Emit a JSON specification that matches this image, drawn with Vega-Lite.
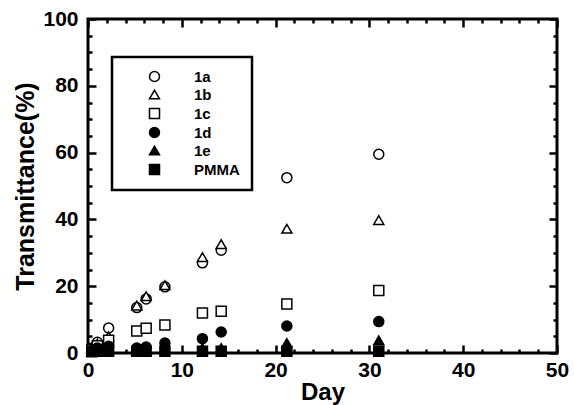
{
  "$schema": "https://vega.github.io/schema/vega-lite/v6.json",
  "width": 469,
  "height": 334,
  "autosize": "none",
  "padding": {"left": 88, "top": 19, "right": 17, "bottom": 52},
  "background": "white",
  "config": {
    "view": {"stroke": "black", "strokeWidth": 3},
    "font": "Liberation Sans",
    "legend": {"strokeColor": "black", "strokeWidth": 2.5, "fillColor": "white"}
  },
  "data": {
    "values": [
      {"day": 0.4, "t": 1.5, "s": "1a"}, {"day": 1.0, "t": 3.2, "s": "1a"}, {"day": 2.2, "t": 7.5, "s": "1a"},
      {"day": 5.2, "t": 13.6, "s": "1a"}, {"day": 6.2, "t": 16.2, "s": "1a"}, {"day": 8.2, "t": 19.8, "s": "1a"},
      {"day": 12.2, "t": 27.0, "s": "1a"}, {"day": 14.2, "t": 30.8, "s": "1a"}, {"day": 21.2, "t": 52.5, "s": "1a"},
      {"day": 31.0, "t": 59.5, "s": "1a"},
      {"day": 0.4, "t": 1.2, "s": "1b"}, {"day": 1.0, "t": 2.8, "s": "1b"}, {"day": 2.2, "t": 5.0, "s": "1b"},
      {"day": 5.2, "t": 14.2, "s": "1b"}, {"day": 6.2, "t": 17.0, "s": "1b"}, {"day": 8.2, "t": 20.3, "s": "1b"},
      {"day": 12.2, "t": 28.7, "s": "1b"}, {"day": 14.2, "t": 32.6, "s": "1b"}, {"day": 21.2, "t": 37.2, "s": "1b"},
      {"day": 31.0, "t": 39.8, "s": "1b"},
      {"day": 0.4, "t": 1.0, "s": "1c"}, {"day": 1.0, "t": 2.2, "s": "1c"}, {"day": 2.2, "t": 3.8, "s": "1c"},
      {"day": 5.2, "t": 6.6, "s": "1c"}, {"day": 6.2, "t": 7.4, "s": "1c"}, {"day": 8.2, "t": 8.4, "s": "1c"},
      {"day": 12.2, "t": 12.0, "s": "1c"}, {"day": 14.2, "t": 12.5, "s": "1c"}, {"day": 21.2, "t": 14.7, "s": "1c"},
      {"day": 31.0, "t": 18.7, "s": "1c"},
      {"day": 0.4, "t": 0.8, "s": "1d"}, {"day": 1.0, "t": 1.5, "s": "1d"}, {"day": 2.2, "t": 2.0, "s": "1d"},
      {"day": 5.2, "t": 1.5, "s": "1d"}, {"day": 6.2, "t": 1.8, "s": "1d"}, {"day": 8.2, "t": 3.0, "s": "1d"},
      {"day": 12.2, "t": 4.3, "s": "1d"}, {"day": 14.2, "t": 6.3, "s": "1d"}, {"day": 21.2, "t": 8.1, "s": "1d"},
      {"day": 31.0, "t": 9.4, "s": "1d"},
      {"day": 0.4, "t": 0.5, "s": "1e"}, {"day": 1.0, "t": 1.0, "s": "1e"}, {"day": 2.2, "t": 1.0, "s": "1e"},
      {"day": 5.2, "t": 0.8, "s": "1e"}, {"day": 6.2, "t": 1.0, "s": "1e"}, {"day": 8.2, "t": 1.2, "s": "1e"},
      {"day": 12.2, "t": 1.5, "s": "1e"}, {"day": 14.2, "t": 1.5, "s": "1e"}, {"day": 21.2, "t": 3.0, "s": "1e"},
      {"day": 31.0, "t": 3.8, "s": "1e"},
      {"day": 0.4, "t": 0.4, "s": "PMMA"}, {"day": 1.0, "t": 0.5, "s": "PMMA"}, {"day": 2.2, "t": 0.5, "s": "PMMA"},
      {"day": 5.2, "t": 0.5, "s": "PMMA"}, {"day": 6.2, "t": 0.5, "s": "PMMA"}, {"day": 8.2, "t": 0.5, "s": "PMMA"},
      {"day": 12.2, "t": 0.5, "s": "PMMA"}, {"day": 14.2, "t": 0.5, "s": "PMMA"}, {"day": 21.2, "t": 0.5, "s": "PMMA"},
      {"day": 31.0, "t": 0.5, "s": "PMMA"}
    ]
  },
  "layer": [
    {
      "mark": {"type": "point", "filled": true, "stroke": "black", "strokeWidth": 1.5, "size": 100, "opacity": 1},
      "encoding": {
        "x": {"field": "day", "type": "quantitative", "scale": {"domain": [0, 50], "nice": false},
          "axis": {"orient": "bottom", "values": [0, 10, 20, 30, 40, 50], "tickSize": -8, "tickWidth": 2.5, "tickColor": "black",
            "domain": false, "grid": false, "labelFontSize": 21, "labelFontWeight": "bold", "labelColor": "black", "labelPadding": 14,
            "title": "Day", "titleFontSize": 24, "titleFontWeight": "bold", "titleColor": "black", "titlePadding": 0, "labelFlush": false}},
        "y": {"field": "t", "type": "quantitative", "scale": {"domain": [0, 100], "nice": false},
          "axis": {"orient": "left", "values": [0, 20, 40, 60, 80, 100], "tickSize": -8, "tickWidth": 2.5, "tickColor": "black",
            "domain": false, "grid": false, "labelFontSize": 21, "labelFontWeight": "bold", "labelColor": "black", "labelPadding": 18,
            "title": "Transmittance(%)", "titleFontSize": 25, "titleFontWeight": "bold", "titleColor": "black", "titlePadding": 4, "labelFlush": false}},
        "shape": {"field": "s", "type": "nominal",
          "scale": {"domain": ["1a", "1b", "1c", "1d", "1e", "PMMA"], "range": ["circle", "triangle-up", "square", "circle", "triangle-up", "square"]},
          "legend": {"title": null, "orient": "none", "legendX": 24, "legendY": 38, "padding": 12, "symbolOffset": 23, "labelOffset": 32,
            "rowPadding": 2, "symbolSize": 100, "labelFontSize": 15, "labelFontWeight": "bold", "labelColor": "black",
            "encode": {"symbols": {"update": {"stroke": {"value": "black"}, "strokeWidth": {"value": 1.5}}}}}},
        "fill": {"field": "s", "type": "nominal",
          "scale": {"domain": ["1a", "1b", "1c", "1d", "1e", "PMMA"], "range": ["white", "white", "white", "black", "black", "black"]},
          "legend": {"title": null, "orient": "none", "legendX": 24, "legendY": 38, "padding": 12, "symbolOffset": 23, "labelOffset": 32,
            "rowPadding": 2, "symbolSize": 100, "labelFontSize": 15, "labelFontWeight": "bold", "labelColor": "black",
            "encode": {"symbols": {"update": {"stroke": {"value": "black"}, "strokeWidth": {"value": 1.5}}}}}}
      }
    },
    {
      "mark": {"type": "point", "opacity": 0},
      "encoding": {
        "x": {"field": "day", "type": "quantitative",
          "axis": {"orient": "bottom", "values": [2,4,6,8,12,14,16,18,22,24,26,28,32,34,36,38,42,44,46,48], "tickSize": -4, "tickWidth": 2.5, "tickColor": "black",
            "domain": false, "grid": false, "labels": false, "title": null}},
        "y": {"field": "t", "type": "quantitative",
          "axis": {"orient": "left", "values": [5,10,15,25,30,35,45,50,55,65,70,75,85,90,95], "tickSize": -4, "tickWidth": 2.5, "tickColor": "black",
            "domain": false, "grid": false, "labels": false, "title": null}}
      }
    },
    {
      "mark": {"type": "point", "opacity": 0},
      "encoding": {
        "x": {"field": "day", "type": "quantitative",
          "axis": {"orient": "top", "values": [0, 10, 20, 30, 40, 50], "tickSize": -8, "tickWidth": 2.5, "tickColor": "black",
            "domain": false, "grid": false, "labels": false, "title": null}},
        "y": {"field": "t", "type": "quantitative",
          "axis": {"orient": "right", "values": [0, 20, 40, 60, 80, 100], "tickSize": -8, "tickWidth": 2.5, "tickColor": "black",
            "domain": false, "grid": false, "labels": false, "title": null}}
      }
    },
    {
      "mark": {"type": "point", "opacity": 0},
      "encoding": {
        "x": {"field": "day", "type": "quantitative",
          "axis": {"orient": "top", "values": [2,4,6,8,12,14,16,18,22,24,26,28,32,34,36,38,42,44,46,48], "tickSize": -4, "tickWidth": 2.5, "tickColor": "black",
            "domain": false, "grid": false, "labels": false, "title": null}},
        "y": {"field": "t", "type": "quantitative",
          "axis": {"orient": "right", "values": [5,10,15,25,30,35,45,50,55,65,70,75,85,90,95], "tickSize": -4, "tickWidth": 2.5, "tickColor": "black",
            "domain": false, "grid": false, "labels": false, "title": null}}
      }
    }
  ],
  "resolve": {"axis": {"x": "independent", "y": "independent"}}
}
